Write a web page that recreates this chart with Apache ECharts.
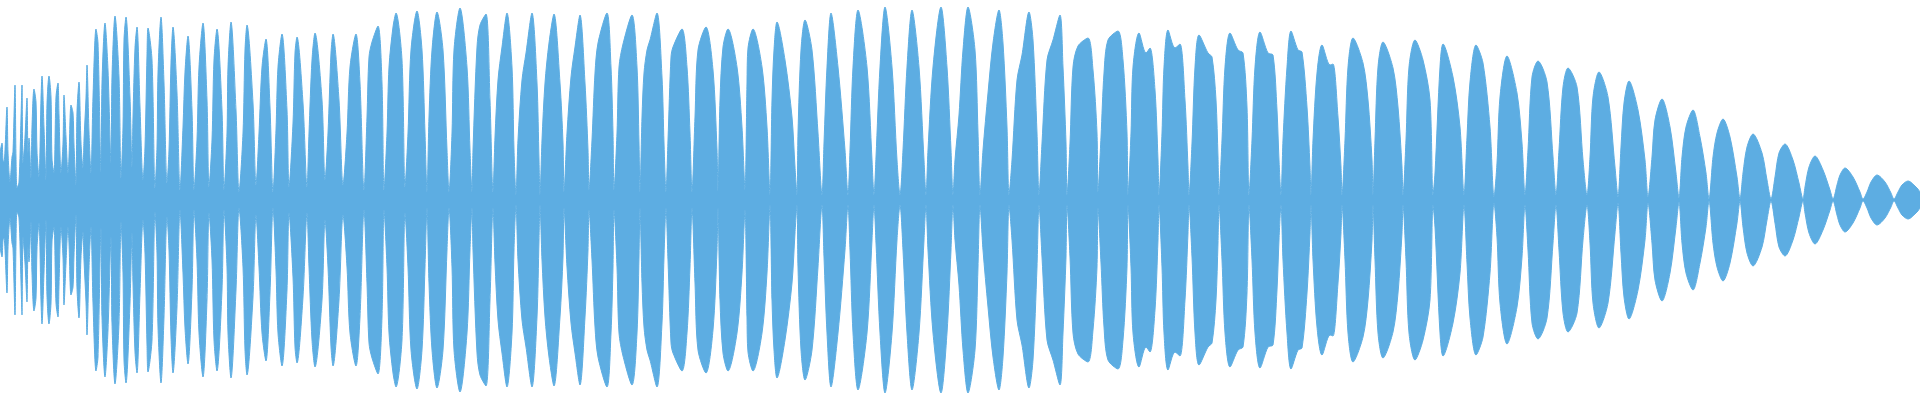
<!DOCTYPE html>
<html><head><meta charset="utf-8">
<script src="https://cdn.jsdelivr.net/npm/echarts@6/dist/echarts.min.js"></script>
<style>html,body{margin:0;padding:0;background:#fff}#c{width:1920px;height:400px}</style>
</head><body><div id="c"></div>
<script>
// Waveform envelope: bucket position and peak level (full scale = 200)
const framePos = [
  0,2,3,4,7,8,10,12,13,15,16,17,19,21,22,23,25,27,28,29,31,32,34,36,37,39,41,42,44,46,47,49,51,52,54,56,58,59,61,63,64,66,68,69,71,73,74,76,77,79,81,83,84,86,87,89,91,93,
  96,98,101,102,105,108,111,112,115,119,121,123,124,126,130,132,133,135,137,140,143,145,147,148,152,155,157,158,161,164,167,169,171,173,177,180,183,185,188,192,194,197,199,203,207,209,212,214,217,222,224,227,228,231,236,239,243,245,247,253,256,259,262,266,270,273,276,278,282,287,289,293,295,297,303,307,
  309,312,315,322,325,328,331,333,339,343,347,350,356,360,364,367,369,372,378,382,384,387,389,393,396,402,405,408,411,417,422,425,427,429,432,437,443,447,449,452,454,460,467,470,472,473,477,480,486,490,493,
  495,498,502,507,512,514,516,518,522,526,532,537,539,540,542,545,549,554,560,563,564,567,571,575,580,585,588,589,592,595,598,607,611,613,614,617,619,623,632,637,639,640,642,644,647,650,657,662,664,666,668,671,673,682,687,690,692,695,698,706,713,717,718,720,723,728,737,742,745,747,748,753,762,767,770,772,774,777,785,792,795,797,
  798,801,805,812,818,822,824,827,831,838,845,848,850,853,858,867,872,874,876,880,885,892,897,900,903,907,912,919,924,926,928,933,941,947,951,953,955,959,963,968,975,978,980,
  983,988,993,999,1003,1007,1009,1012,1017,1022,1029,1033,1037,1039,1042,1047,1053,1060,1063,1066,1067,1070,1073,1078,1088,1093,1097,1098,1101,1104,1108,1118,1123,1127,1128,1131,1133,1139,1146,1150,1155,1158,1159,1162,1164,1168,1175,1180,1185,1188,1189,1192,1195,1199,1208,1212,1216,1218,1219,1222,1225,1230,1238,1243,1247,1249,1252,1255,1260,1268,1273,1277,1279,1281,
  1283,1287,1291,1298,1302,1307,1310,1311,1313,1317,1322,1330,1333,1338,1341,1342,1345,1348,1353,1363,1368,1372,1373,1375,1378,1383,1393,1398,1402,1403,1406,1409,1415,1423,1430,1433,1435,1440,1443,1453,1460,1464,
  1467,1470,1476,1483,1490,1494,1497,1500,1507,1517,1522,1525,1528,1532,1538,1547,1553,1556,1559,1563,1568,1577,1583,1587,1590,1593,1599,1608,1615,1618,1621,1624,1629,1638,1645,1648,1652,1655,1662,1670,1676,1679,1682,1686,1693,1700,1706,1709,1713,1717,1723,1730,1737,1740,1743,1747,1753,1762,1767,1771,1775,1779,1785,1793,1799,1803,1805,1809,1815,1823,1830,1833,1837,1840,1845,1853,1860,1863,1867,1871,1877,1885,1891,1894,1898,1902,1908,1917,1920
];
const level = [
  47,57,40,38,93,48,18,43,48,115,42,12,18,82,115,37,63,102,47,62,22,73,111,98,48,23,101,124,72,20,96,124,103,41,27,103,117,85,27,57,105,63,27,43,95,87,55,15,88,118,57,32,60,102,135,68,27,103,
  171,157,28,117,177,130,37,123,184,123,22,73,160,183,103,33,83,152,173,93,20,53,145,172,140,12,53,127,183,117,17,50,137,173,107,10,73,128,164,90,10,60,133,177,100,13,60,140,171,90,10,67,133,178,90,8,67,150,175,97,15,67,133,161,93,8,70,133,166,90,13,77,147,163,97,13,
  67,140,167,100,20,67,147,166,100,15,67,133,166,117,10,83,143,158,174,117,10,67,133,173,187,140,13,67,150,189,150,67,8,83,150,188,150,50,8,67,150,192,133,50,8,50,153,175,186,100,8,
  63,120,153,187,133,50,5,60,120,147,187,117,40,5,60,117,157,186,117,57,8,67,123,153,185,117,50,10,60,127,157,187,133,67,10,67,133,156,185,133,57,8,83,127,150,160,187,123,57,8,60,143,153,171,133,67,8,83,150,173,130,50,8,100,153,171,133,73,10,117,152,171,133,73,5,100,150,178,140,83,33,5,
  67,150,180,150,67,5,57,133,187,133,50,5,50,133,190,133,40,5,43,133,193,133,40,5,50,133,190,133,40,5,50,133,193,133,50,5,40,85,150,193,150,67,5,
  50,107,157,190,157,73,5,40,120,145,188,160,67,5,57,140,160,185,133,57,5,57,133,154,162,130,67,8,63,127,160,169,140,67,5,67,133,167,147,152,110,40,5,67,133,170,152,156,100,33,5,57,133,165,147,143,100,43,5,60,133,167,150,147,93,5,60,133,168,147,145,90,40,5,
  60,133,169,150,148,93,33,5,60,127,155,135,136,83,33,5,60,133,162,137,100,40,5,60,133,158,132,93,33,5,60,133,160,140,100,5,27,133,156,123,73,5,
  63,118,155,137,73,3,37,103,144,107,57,5,50,123,139,118,43,5,50,113,132,113,40,5,43,103,128,103,33,3,53,97,119,90,40,3,43,80,101,73,27,2,43,73,90,63,27,1,43,67,81,63,23,1,27,53,66,47,20,1,23,47,56,40,17,1,13,33,44,30,10,1,15,25,32,23,8,1,8,18,25,18,7,1,8,15,19,12,8
];
const waveColor = '#5dade2';

const upper = framePos.map((x, i) => [x, level[i]]);
const lower = framePos.map((x, i) => [x, -level[i]]);

const chart = echarts.init(document.getElementById('c'), null, {renderer: 'canvas'});
const mk = (data) => ({
  type: 'line', data, smooth: 0.3, symbol: 'none', silent: true,
  lineStyle: {color: waveColor, width: 1}, areaStyle: {color: waveColor, opacity: 1}
});
chart.setOption({
  animation: false,
  grid: {left: 0, right: 0, top: 0, bottom: 0},
  xAxis: {type: 'value', min: 0, max: 1920, show: false},
  yAxis: {type: 'value', min: -200, max: 200, show: false},
  series: [mk(upper), mk(lower)]
});
</script></body></html>
